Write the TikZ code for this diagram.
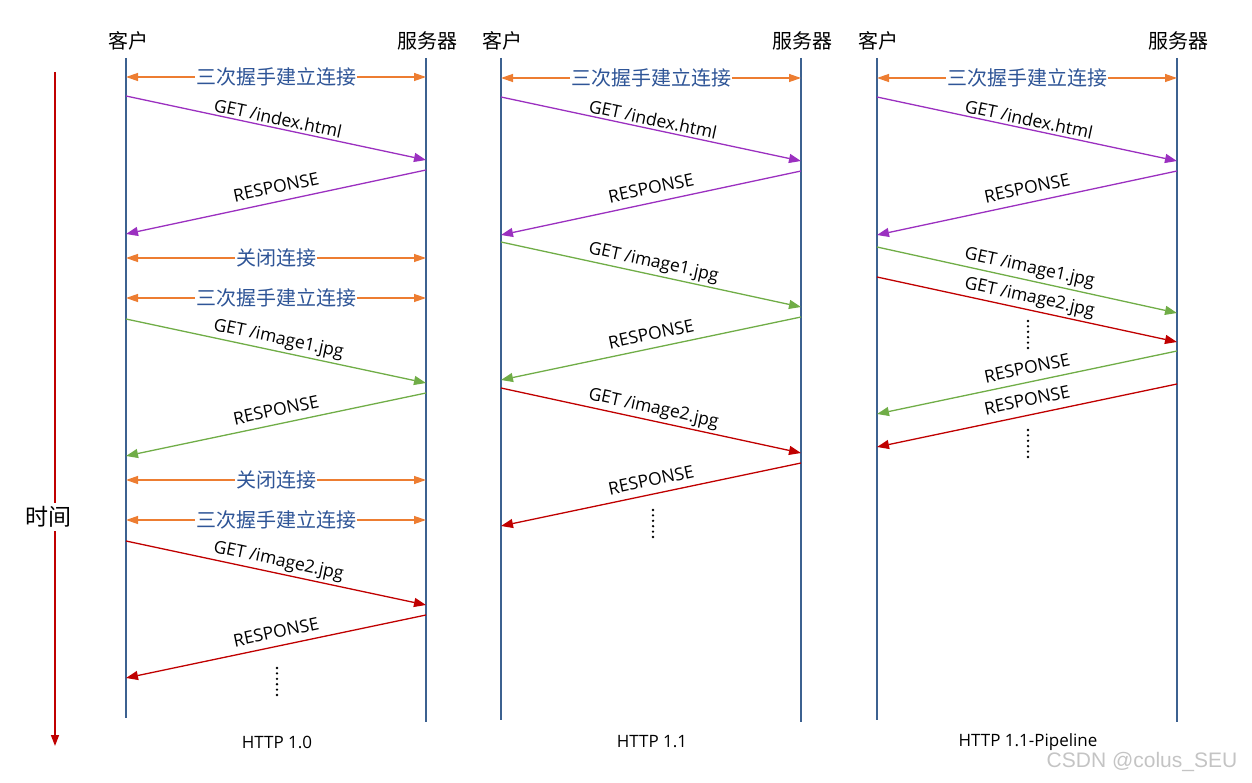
\documentclass[tikz,border=0pt]{standalone}
\usepackage{fontspec}
\setmainfont{Open Sans}
\newfontfamily\cjk{Noto Sans CJK SC}
\newfontfamily\wmfont{Liberation Sans}
\usetikzlibrary{arrows.meta}
\definecolor{lifeC}{HTML}{3C6190}
\definecolor{orangeC}{HTML}{ED7D31}
\definecolor{blueC}{HTML}{2F5597}
\definecolor{purpleC}{HTML}{9B30C0}
\definecolor{greenC}{HTML}{70AD47}
\definecolor{redC}{HTML}{C00000}
\definecolor{wmC}{HTML}{C4C4C4}
\tikzset{
  life/.style={draw=lifeC, line width=1.6pt},
  msg/.style={line width=1.3pt, -{Triangle[length=12pt,width=9pt]}},
  hand/.style={draw=orangeC, line width=1.3pt, {Triangle[length=12pt,width=8pt]}-{Triangle[length=12pt,width=8pt]}},
  cnlab/.style={font=\cjk\fontsize{20}{22}\selectfont, text=blueC, fill=white, inner sep=1pt},
  lab/.style={font=\fontsize{17.5}{19}\selectfont, sloped, above, midway, inner sep=2.5pt},
  rlab/.style={font=\fontsize{17.5}{19}\selectfont, rotate=12},
  head/.style={font=\cjk\fontsize{20}{22}\selectfont},
  ver/.style={font=\fontsize{17}{19}\selectfont},
  dotsty/.style={line width=2.6pt, dash pattern=on 0pt off 5.4pt, line cap=round}
}
\begin{document}
\begin{tikzpicture}[x=1pt,y=-1pt]
\useasboundingbox (0,0) rectangle (1252,783);

% headers
\node[head] (h1c) at (128,41) {客户};
\node[head] (h1s) at (427,41) {服务器};
\node[head] (h2c) at (502,41) {客户};
\node[head] (h2s) at (802,41) {服务器};
\node[head] (h3c) at (878,41) {客户};
\node[head] (h3s) at (1178,41) {服务器};

% lifelines
\coordinate (c1) at (126,58); \coordinate (c1b) at (126,718);
\coordinate (s1) at (426,58); \coordinate (s1b) at (426,722);
\coordinate (c2) at (501,58); \coordinate (c2b) at (501,720);
\coordinate (s2) at (801,58); \coordinate (s2b) at (801,722);
\coordinate (c3) at (877,58); \coordinate (c3b) at (877,720);
\coordinate (s3) at (1177,58); \coordinate (s3b) at (1177,722);
\foreach \a/\b in {c1/c1b,s1/s1b,c2/c2b,s2/s2b,c3/c3b,s3/s3b}
  \draw[life] (\a) -- (\b);

% time axis
\coordinate (tt) at (55,72);
\coordinate (tb) at (55,746);
\draw[draw=redC, line width=1.5pt, -{Triangle[length=11pt,width=8pt]}] (tt) -- (tb);
\node[font=\cjk\fontsize{23}{25}\selectfont, fill=white, inner sep=3pt] (time) at (48,517) {时间};

% ---------- panel 1: HTTP 1.0 ----------
\draw[hand] (c1 |- 0,77) -- (s1 |- 0,77) node[cnlab, midway] (p1a) {三次握手建立连接};
\draw[msg, purpleC] (c1 |- 0,96) -- (s1 |- 0,160) node[lab, text=black] (p1b) {GET /index.html};
\draw[msg, purpleC] (s1 |- 0,170) -- (c1 |- 0,234);
\node[rlab] (p1cl) at (276,187) {RESPONSE};
\draw[hand] (c1 |- 0,258) -- (s1 |- 0,258) node[cnlab, midway] (p1d) {关闭连接};
\draw[hand] (c1 |- 0,298) -- (s1 |- 0,298) node[cnlab, midway] (p1e) {三次握手建立连接};
\draw[msg, greenC] (c1 |- 0,319) -- (s1 |- 0,383) node[lab, text=black] (p1f) {GET /image1.jpg};
\draw[msg, greenC] (s1 |- 0,393) -- (c1 |- 0,456);
\node[rlab] (p1gl) at (276,410) {RESPONSE};
\draw[hand] (c1 |- 0,480) -- (s1 |- 0,480) node[cnlab, midway] (p1h) {关闭连接};
\draw[hand] (c1 |- 0,520) -- (s1 |- 0,520) node[cnlab, midway] (p1i) {三次握手建立连接};
\draw[msg, redC] (c1 |- 0,541) -- (s1 |- 0,605) node[lab, text=black] (p1j) {GET /image2.jpg};
\draw[msg, redC] (s1 |- 0,615) -- (c1 |- 0,678);
\node[rlab] (p1kl) at (276,632) {RESPONSE};
\coordinate (d1t) at (277,668); \coordinate (d1b) at (277,695);
\draw[dotsty] (d1t) -- (d1b);
\node[ver] (v1) at (277,742) {HTTP 1.0};

% ---------- panel 2: HTTP 1.1 ----------
\draw[hand] (c2 |- 0,78) -- (s2 |- 0,78) node[cnlab, midway] (p2a) {三次握手建立连接};
\draw[msg, purpleC] (c2 |- 0,97) -- (s2 |- 0,161) node[lab, text=black] (p2b) {GET /index.html};
\draw[msg, purpleC] (s2 |- 0,171) -- (c2 |- 0,235);
\node[rlab] (p2cl) at (651,188) {RESPONSE};
\draw[msg, greenC] (c2 |- 0,242) -- (s2 |- 0,307) node[lab, text=black] (p2d) {GET /image1.jpg};
\draw[msg, greenC] (s2 |- 0,317) -- (c2 |- 0,380);
\node[rlab] (p2el) at (651,334) {RESPONSE};
\draw[msg, redC] (c2 |- 0,388) -- (s2 |- 0,453) node[lab, text=black] (p2f) {GET /image2.jpg};
\draw[msg, redC] (s2 |- 0,463) -- (c2 |- 0,526);
\node[rlab] (p2gl) at (651,480) {RESPONSE};
\coordinate (d2t) at (653,510); \coordinate (d2b) at (653,537);
\draw[dotsty] (d2t) -- (d2b);
\node[ver] (v2) at (652,742) {HTTP 1.1};

% ---------- panel 3: HTTP 1.1-Pipeline ----------
\draw[hand] (c3 |- 0,78) -- (s3 |- 0,78) node[cnlab, midway] (p3a) {三次握手建立连接};
\draw[msg, purpleC] (c3 |- 0,97) -- (s3 |- 0,161) node[lab, text=black] (p3b) {GET /index.html};
\draw[msg, purpleC] (s3 |- 0,171) -- (c3 |- 0,235);
\node[rlab] (p3cl) at (1027,188) {RESPONSE};
\draw[msg, greenC] (c3 |- 0,247) -- (s3 |- 0,313) node[lab, text=black] (p3d) {GET /image1.jpg};
\draw[msg, redC] (c3 |- 0,277) -- (s3 |- 0,342) node[lab, text=black] (p3e) {GET /image2.jpg};
\coordinate (d3t) at (1028,321); \coordinate (d3b) at (1028,348);
\draw[dotsty] (d3t) -- (d3b);
\draw[msg, greenC] (s3 |- 0,351) -- (c3 |- 0,414);
\node[rlab] (p3fl) at (1027,368) {RESPONSE};
\draw[msg, redC] (s3 |- 0,384) -- (c3 |- 0,447);
\node[rlab] (p3gl) at (1027,400) {RESPONSE};
\coordinate (d4t) at (1028,430); \coordinate (d4b) at (1028,458);
\draw[dotsty] (d4t) -- (d4b);
\node[ver] (v3) at (1028,742) {HTTP 1.1-Pipeline};

% watermark
\node[font=\wmfont\fontsize{21}{23}\selectfont, text=wmC] (wm) at (1142,762) {CSDN @colus\_SEU};
\end{tikzpicture}
\end{document}
